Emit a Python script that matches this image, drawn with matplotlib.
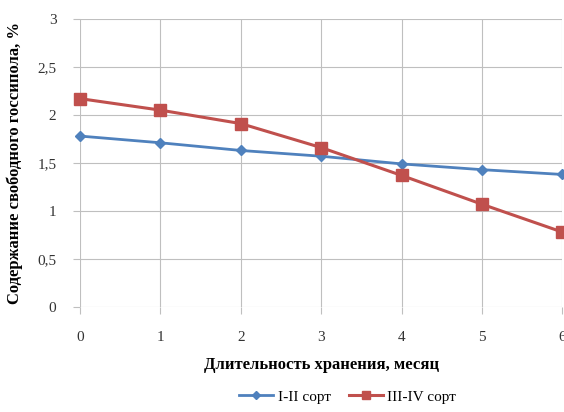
import matplotlib.pyplot as plt

months = [0, 1, 2, 3, 4, 5, 6]
sort_1_2 = [1.78, 1.71, 1.63, 1.57, 1.49, 1.43, 1.38]
sort_3_4 = [2.17, 2.05, 1.91, 1.66, 1.37, 1.07, 0.78]
y_ticks = [0, 0.5, 1, 1.5, 2, 2.5, 3]
y_labels = ['0', '0,5', '1', '1,5', '2', '2,5', '3']

plt.rcParams['font.family'] = ['Liberation Serif', 'DejaVu Serif']

fig = plt.figure(figsize=(5.64, 4.12), dpi=100)
ax = fig.add_axes([0.142, 0.255, 0.855, 0.699])

ax.plot(months, sort_1_2, color='#4F81BD', marker='D', markersize=5, linewidth=2,
        label='I-II сорт', clip_on=False, zorder=3)
ax.plot(months, sort_3_4, color='#C0504D', marker='s', markersize=8, linewidth=2.2,
        label='III-IV сорт', clip_on=False, zorder=4)

ax.set_xlim(0, 6)
ax.set_ylim(0, 3)
ax.set_xticks(months)
ax.set_yticks(y_ticks)
ax.set_yticklabels(y_labels)
ax.grid(True, color='#BFBFBF', linewidth=0.8)
for s in ax.spines.values():
    s.set_visible(False)
ax.tick_params(axis='both', length=5, color='#BFBFBF', labelsize=11, labelcolor='#333333', pad=12)

ax.set_xlabel('Длительность хранения, месяц', fontsize=12, fontweight='bold', labelpad=10)
ax.set_ylabel('Содержание свободного госсипола, %', fontsize=12, fontweight='bold', labelpad=10)

leg = ax.legend(loc='upper center', bbox_to_anchor=(0.555, -0.24), ncol=2, frameon=False,
                fontsize=11, handlelength=2.2, columnspacing=1.2, handletextpad=0.3,
                markerscale=0.8)

plt.savefig('out.png')
plt.close()
